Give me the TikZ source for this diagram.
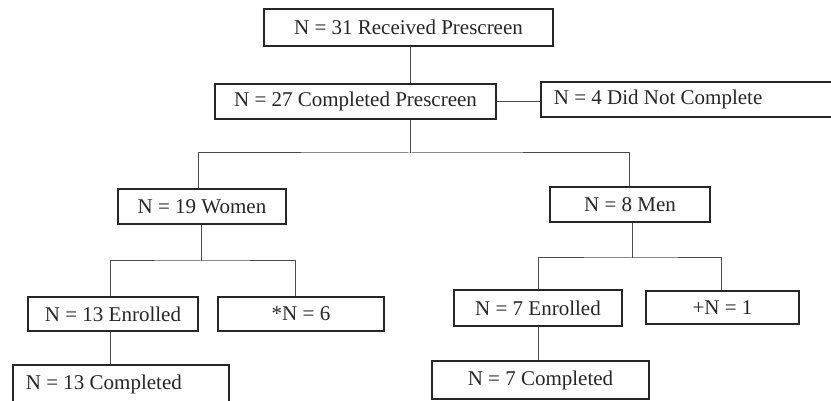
\documentclass[tikz,border=0pt]{standalone}
\usepackage{fontspec}
\setmainfont{Liberation Serif}

\begin{document}
\begin{tikzpicture}[x=1pt,y=-1pt,
                box/.style={rectangle,draw=black!85,line width=1.8pt,inner sep=0pt,text=black!85,font=\fontsize{21}{25}\selectfont},
                leftbox/.style={box,align=flush left,inner xsep=13pt},
                link/.style={draw=black!70,line width=1pt}]
                \useasboundingbox (0,0) rectangle (831,401);
                \clip (0,0) rectangle (831,401);

                \node (rec) at (408.5,27.5) [box,minimum width=289pt,minimum height=37pt] {N = 31 Received Prescreen};
                \node (cp) at (355.5,101.5) [box,minimum width=281pt,minimum height=35pt] {N = 27 Completed Prescreen};
                \node (dnc) at (540,99.5) [leftbox,anchor=west,text width=300pt,minimum height=35pt] {N = 4 Did Not Complete};

                \node (women) at (202,206.5) [box,minimum width=168pt,minimum height=35pt] {N = 19 Women};
                \node (men) at (630,204.5) [box,minimum width=160pt,minimum height=35pt] {N = 8 Men};

                \node (e13) at (113,314) [box,minimum width=170pt,minimum height=34pt] {N = 13 Enrolled};
                \node (n6) at (301,314) [box,minimum width=166pt,minimum height=34pt] {*N = 6};
                \node (e7) at (538,308) [box,minimum width=168pt,minimum height=36pt] {N = 7 Enrolled};
                \node (n1) at (722.5,307.5) [box,minimum width=153pt,minimum height=33pt] {+N = 1};

                \node (c13) at (12,384) [leftbox,anchor=west,text width=190pt,minimum height=38pt] {N = 13 Completed};
                \node (c7) at (540.5,380) [box,minimum width=217pt,minimum height=38pt] {N = 7 Completed};

                \coordinate (split) at (410,153);
                \coordinate (wsplit) at (201,261);
                \coordinate (msplit) at (632,258);

                \draw[link] ([xshift=1.5pt]rec.south) -- ([xshift=1.5pt]rec.south |- cp.north);
                \draw[link] (cp.east) -- (cp.east -| dnc.west);
                \draw[link] (cp.south -| split) -- (split);
                \draw[link] ([xshift=-4pt]women.north) |- (split) -| ([xshift=-1pt]men.north);

                \draw[link] ([xshift=-1pt]women.south) -- (wsplit);
                \draw[link] ([xshift=-3pt]e13.north) |- (wsplit) -| ([xshift=-6pt]n6.north);
                \draw[link] ([xshift=-3pt]e13.south) -- ([xshift=-3pt]e13.south |- c13.north);

                \draw[link] ([xshift=2pt]men.south) -- (msplit);
                \draw[link] (e7.north) |- (msplit) -| ([xshift=-1.5pt]n1.north);
                \draw[link] (e7.south) -- (e7.south |- c7.north);
            \end{tikzpicture}
\end{document}
